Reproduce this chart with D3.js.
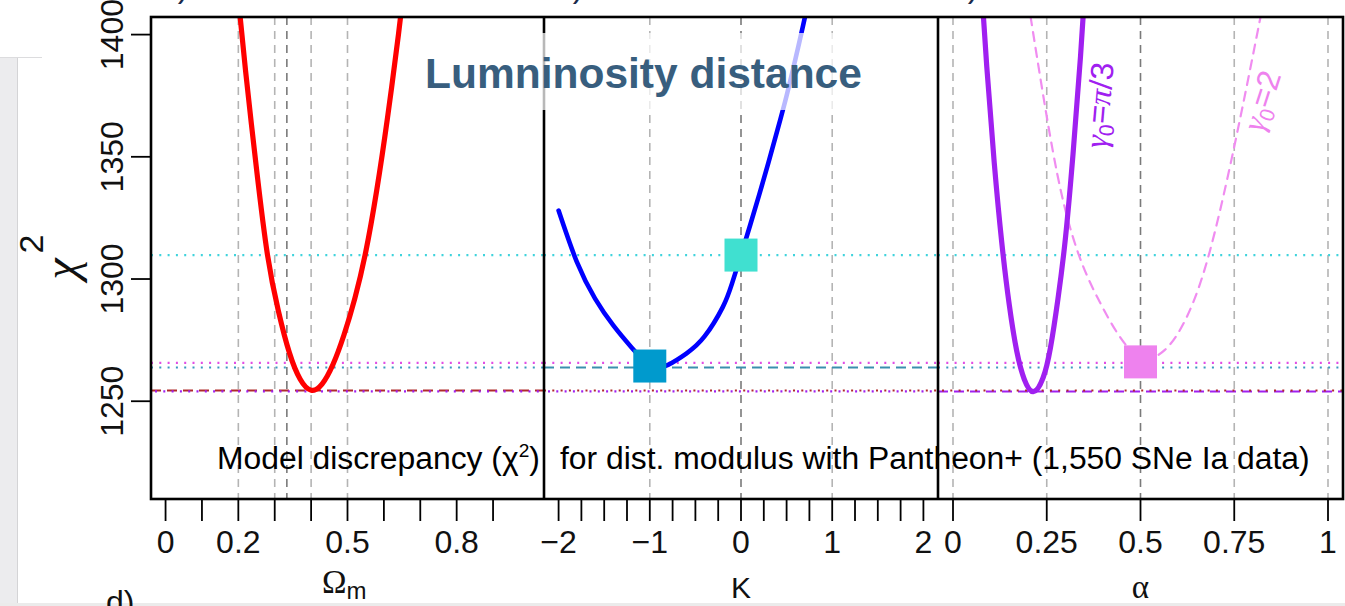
<!DOCTYPE html>
<html><head><meta charset="utf-8">
<script src="https://cdn.jsdelivr.net/npm/d3@7"></script>
<style>
body{margin:0;background:#fff;overflow:hidden;}
svg{display:block;font-family:"Liberation Sans",Arial,sans-serif;}
</style>
</head><body>
<svg id="c" width="1345" height="606"></svg>
<script>
// ---------------- DATA ----------------
// Panel 1: chi2 vs Omega_m (red)
const omegaM     = [0.195, 0.22, 0.25, 0.28, 0.31, 0.34, 0.37, 0.40, 0.43, 0.46, 0.49, 0.52, 0.55, 0.58, 0.61, 0.64, 0.66];
const chi2Omega  = [1422, 1385, 1345, 1310, 1287, 1270, 1259, 1254.5, 1257, 1265, 1277, 1292, 1311, 1336, 1366, 1400, 1425];
// Panel 2: chi2 vs K (blue)
const curvK      = [-2.0, -1.8, -1.6, -1.4, -1.2, -1.0, -0.9, -0.8, -0.6, -0.4, -0.2, -0.1, 0.0, 0.1, 0.2, 0.3, 0.4, 0.5, 0.6, 0.7, 0.8];
const chi2K      = [1328, 1307, 1292, 1281, 1272, 1264.4, 1263.8, 1264.9, 1269.5, 1276.5, 1288.5, 1298, 1309.8, 1322, 1334.5, 1347.5, 1361, 1375, 1390.5, 1407, 1425];
// Panel 3: chi2 vs alpha, gamma0 = pi/3 (purple, solid)
const alphaPi3   = [0.07, 0.09, 0.11, 0.13, 0.15, 0.17, 0.19, 0.214, 0.24, 0.26, 0.28, 0.30, 0.32, 0.34, 0.36];
const chi2Pi3    = [1433, 1387, 1347.5, 1315, 1289.5, 1270.5, 1259, 1253.9, 1259.5, 1272, 1292, 1317, 1351, 1391, 1438];
// Panel 3: chi2 vs alpha, gamma0 = 2 (violet, dashed)
const alphaG2    = [0.20, 0.255, 0.30, 0.345, 0.39, 0.44, 0.50, 0.565, 0.625, 0.686, 0.758, 0.83];
const chi2G2     = [1414, 1362, 1328, 1306, 1291, 1277.5, 1268, 1271, 1285, 1312, 1360, 1415];
// Reference chi2 levels (horizontal lines)
const refNames   = ["flat", "gamma2", "kmin", "omegaMin", "pi3Min"];
const refValues  = [1309.8, 1265.7, 1263.8, 1254.4, 1254.0];
// Square markers
const kMarkK     = [-1, 0];
const kMarkChi2  = [1264.4, 1309.8];
const aMarkA     = [0.5];
const aMarkChi2  = [1266.1];
// Vertical reference lines
const omVlines   = [0.2, 0.3, 1/3, 0.4, 0.5];
const kVlines    = [-1, 0, 1];
const aVlines    = [0, 0.25, 0.5, 0.75, 1];
// Ticks
const yTicks     = [1250, 1300, 1350, 1400];
const omTicks    = [0, 0.1, 0.2, 0.3, 0.4, 0.5, 0.6, 0.7, 0.8, 0.9];
const omLabels   = [0, 0.2, 0.5, 0.8];
const kTicks     = [-2, -1.75, -1.5, -1.25, -1, -0.75, -0.5, -0.25, 0, 0.25, 0.5, 0.75, 1, 1.25, 1.5, 1.75, 2];
const kLabels    = [-2, -1, 0, 1, 2];
const aTicks     = [0, 0.25, 0.5, 0.75, 1];
const aLabels    = [0, 0.25, 0.5, 0.75, 1];

// ---------------- LAYOUT ----------------
const svg = d3.select("#c");
const yTop = 17, yBot = 499;
const y = d3.scaleLinear().domain([1210, 1407.2]).range([yBot, yTop]);
const x1 = d3.scaleLinear().domain([-0.04, 1.04]).range([151, 544]);
const x2 = d3.scaleLinear().domain([-2.16, 2.16]).range([544, 938]);
const x3 = d3.scaleLinear().domain([-0.04, 1.04]).range([938, 1343]);
const panels = [x1, x2, x3];

// slide background bits
svg.append("rect").attr("x",0).attr("y",57).attr("width",17).attr("height",549).attr("fill","#ececee");
svg.append("line").attr("x1",17.5).attr("x2",17.5).attr("y1",57).attr("y2",606).attr("stroke","#d4d4d6").attr("stroke-width",1);
svg.append("line").attr("x1",0).attr("x2",42).attr("y1",57.5).attr("y2",57.5).attr("stroke","#dcdcde").attr("stroke-width",1);
svg.append("rect").attr("x",0).attr("y",603).attr("width",1345).attr("height",3).attr("fill","#ebebeb");

// clip paths
const defs = svg.append("defs");
panels.forEach((xs,i)=>{
  const r = xs.range();
  defs.append("clipPath").attr("id","clip"+i).append("rect")
    .attr("x",r[0]).attr("y",yTop).attr("width",r[1]-r[0]).attr("height",yBot-yTop);
});

// vertical dashed lines
function vlines(g, xs, vals, darkIdx){
  g.selectAll(null).data(vals).enter().append("line")
    .attr("x1",d=>xs(d)).attr("x2",d=>xs(d)).attr("y1",yTop).attr("y2",yBot)
    .attr("stroke",(d,i)=> i===darkIdx ? "#7a7a7a" : "#b4b4b4")
    .attr("stroke-width",1.6).attr("stroke-dasharray","8,6");
}
const g1 = svg.append("g").attr("clip-path","url(#clip0)");
const g2 = svg.append("g").attr("clip-path","url(#clip1)");
const g3 = svg.append("g").attr("clip-path","url(#clip2)");
vlines(g1, x1, omVlines, 2);
vlines(g2, x2, kVlines, 1);
vlines(g3, x3, aVlines, 2);

// horizontal reference lines
const refColor = {flat:"#3fd3dc", gamma2:"#e14ce4", kmin:"#3a98c0", omegaMin:"#b02a2a", pi3Min:"#a020f0"};
const dot = "2,6.3", dash = "10,6";
function hline(g, xs, name, style, offset){
  const r = xs.range();
  const v = refValues[refNames.indexOf(name)];
  g.append("line").attr("x1",r[0]+(offset||0)).attr("x2",r[1]).attr("y1",y(v)).attr("y2",y(v))
    .attr("stroke", name==="kmin" && style===dash ? "#3b8fae" : refColor[name])
    .attr("stroke-width", style===dash ? 2 : 2.2)
    .attr("stroke-dasharray", style);
}
[[g1,x1],[g2,x2],[g3,x3]].forEach(([g,xs],i)=>{
  hline(g, xs, "flat", dot);
  hline(g, xs, "gamma2", dot);
  hline(g, xs, "kmin", i===1 ? dash : dot);
  if(i===2){ hline(g, xs, "pi3Min", dash); hline(g, xs, "omegaMin", dot, 4); }
  else if(i===0){ hline(g, xs, "omegaMin", dash); hline(g, xs, "pi3Min", dot, 4); }
  else { hline(g, xs, "omegaMin", dot); hline(g, xs, "pi3Min", dot, 4); }
});

// curves
function curve(g, xs, xv, yv, color, w, dasharr){
  const line = d3.line().x(d=>xs(d[0])).y(d=>y(d[1])).curve(d3.curveNatural);
  g.append("path").datum(xv.map((v,i)=>[v,yv[i]])).attr("d",line)
    .attr("fill","none").attr("stroke",color).attr("stroke-width",w)
    .attr("stroke-linecap","round").attr("stroke-dasharray",dasharr||null);
}
curve(g1, x1, omegaM, chi2Omega, "#ff0000", 5.2);
curve(g2, x2, curvK, chi2K, "#0000ff", 4.6);
curve(g3, x3, alphaG2, chi2G2, "#f08cf0", 2.2, "9,7");
curve(g3, x3, alphaPi3, chi2Pi3, "#a020f0", 5.2);

// squares
const sq = 33;
g2.selectAll(null).data(kMarkK.map((k,i)=>[k,kMarkChi2[i]])).enter().append("rect")
  .attr("x",d=>x2(d[0])-sq/2).attr("y",d=>y(d[1])-sq/2).attr("width",sq).attr("height",sq)
  .attr("fill",(d,i)=> i===0 ? "#009acd" : "#40e0d0");
g3.selectAll(null).data(aMarkA.map((a,i)=>[a,aMarkChi2[i]])).enter().append("rect")
  .attr("x",d=>x3(d[0])-sq/2).attr("y",d=>y(d[1])-sq/2).attr("width",sq).attr("height",sq)
  .attr("fill","#ee82ee");

// rotated curve labels
const lab1 = svg.append("text").attr("transform","translate(1110,106) rotate(-85)")
  .attr("text-anchor","middle").attr("fill","#a020f0").attr("font-size",32);
lab1.append("tspan").attr("font-style","italic").attr("font-family","Liberation Serif, serif").text("γ");
lab1.append("tspan").attr("font-size",21).attr("dy",6).text("0");
lab1.append("tspan").attr("dy",-6).text("=");
lab1.append("tspan").attr("font-style","italic").attr("font-family","Liberation Serif, serif").text("π");
lab1.append("tspan").text("/3");
const lab2 = svg.append("text").attr("transform","translate(1272,104) rotate(-72)")
  .attr("text-anchor","middle").attr("fill","#ee82ee").attr("font-size",32);
lab2.append("tspan").attr("font-style","italic").attr("font-family","Liberation Serif, serif").text("γ");
lab2.append("tspan").attr("font-size",21).attr("dy",6).text("0");
lab2.append("tspan").attr("dy",-6).text("=2");

// frame
svg.append("rect").attr("x",151).attr("y",yTop).attr("width",1343-151).attr("height",yBot-yTop)
  .attr("fill","none").attr("stroke","#000").attr("stroke-width",2.6);
[544, 938].forEach(xv=> svg.append("line").attr("x1",xv).attr("x2",xv).attr("y1",yTop).attr("y2",yBot)
  .attr("stroke","#000").attr("stroke-width",2.6));

// axes
const tickColor = "#111";
function xAxis(xs, ticks, labels, fmt){
  const g = svg.append("g");
  g.selectAll(null).data(ticks).enter().append("line")
    .attr("x1",d=>xs(d)).attr("x2",d=>xs(d)).attr("y1",yBot).attr("y2",521)
    .attr("stroke","#000").attr("stroke-width",1.8);
  g.selectAll(null).data(labels).enter().append("text")
    .attr("x",d=>xs(d)).attr("y",553).attr("text-anchor","middle")
    .attr("font-size",32).attr("fill",tickColor).text(fmt);
}
const minusFmt = d => (d<0 ? "\u2212"+Math.abs(d) : String(d));
xAxis(x1, omTicks, omLabels, d=>String(d));
xAxis(x2, kTicks, kLabels, minusFmt);
xAxis(x3, aTicks, aLabels, d=>String(d));

const yg = svg.append("g");
yg.selectAll(null).data(yTicks).enter().append("line")
  .attr("x1",131).attr("x2",151).attr("y1",d=>y(d)).attr("y2",d=>y(d))
  .attr("stroke","#000").attr("stroke-width",1.8);
yg.selectAll(null).data(yTicks).enter().append("text")
  .attr("transform",d=>`translate(123,${y(d)}) rotate(-90)`).attr("text-anchor","middle")
  .attr("font-size",32).attr("fill",tickColor).text(d=>d);

// axis titles
svg.append("text").attr("transform","translate(77,269) rotate(-90)").attr("text-anchor","middle")
  .attr("font-size",48).attr("font-style","italic").attr("font-family","Liberation Serif, serif").attr("fill","#111").text("χ");
svg.append("text").attr("transform","translate(43,244) rotate(-90)").attr("text-anchor","middle")
  .attr("font-size",34).attr("fill","#111").text("2");
const om = svg.append("text").attr("x",322).attr("y",593).attr("font-size",33).attr("fill","#111")
  .attr("font-family","Liberation Serif, serif");
om.append("tspan").text("Ω");
om.append("tspan").attr("font-size",24).attr("dy",6).attr("font-family","Liberation Sans, sans-serif").text("m");
svg.append("text").attr("x",x2(0)).attr("y",598).attr("text-anchor","middle").attr("font-size",30).attr("fill","#111").text("K");
svg.append("text").attr("x",x3(0.5)).attr("y",598).attr("text-anchor","middle").attr("font-size",33)
  .attr("font-family","Liberation Serif, serif").attr("fill","#111").text("α");
svg.append("text").attr("x",106).attr("y",613).attr("font-size",32).attr("fill","#111").text("d)");

// tails of panel labels cut by the top edge
[160, 555, 950].forEach(xv=> svg.append("text").attr("x",xv).attr("y",-3).attr("font-size",32)
  .attr("fill","#1a2a4a").text("a)"));

// title with translucent box
svg.append("rect").attr("x",412).attr("y",33).attr("width",462).attr("height",77).attr("fill","#fff").attr("opacity",0.72);
const title = svg.append("text").attr("x",425).attr("y",88).attr("font-size",37).attr("font-weight","bold")
  .attr("fill","#385e7e").text("Lumninosity distance");
const tw = title.node().getComputedTextLength();
title.attr("font-size", 37*437/tw);

// caption
const capB = svg.append("text").attr("x",560).attr("y",469).attr("font-size",28).attr("fill","#000")
  .text("for dist. modulus with Pantheon+ (1,550 SNe Ia data)");
const bw = capB.node().getComputedTextLength();
const fs = 28*750/bw;
capB.attr("font-size", fs);
const capA = svg.append("text").attr("x",217).attr("y",469).attr("font-size",fs).attr("fill","#000");
capA.append("tspan").text("Model discrepancy (χ");
capA.append("tspan").attr("font-size",fs*0.6).attr("dy",-fs*0.38).text("2");
capA.append("tspan").attr("dy",fs*0.38).text(")");
</script>
</body></html>
